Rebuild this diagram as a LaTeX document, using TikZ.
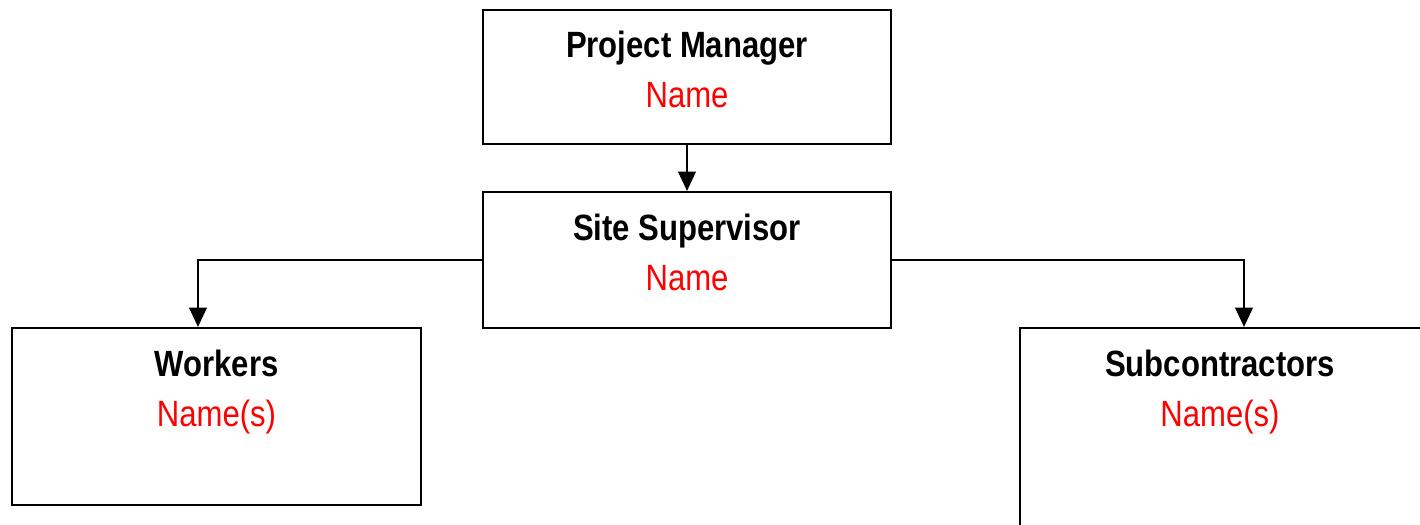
\documentclass[tikz,border=0pt]{standalone}
\usepackage{fontspec}
\setmainfont{Liberation Sans}[FakeStretch=0.85]
\usepackage{tikz}
\usetikzlibrary{arrows.meta, calc, positioning}

\begin{document}
\begin{tikzpicture}[
    box/.style={draw, line width=0.6pt, inner sep=0pt},
    role/.style={anchor=base, font=\fontsize{10.4pt}{12pt}\selectfont\bfseries},
    who/.style={anchor=base, text=red, font=\fontsize{10.4pt}{12pt}\selectfont},
    arr/.style={line width=0.6pt, -{Triangle[length=5.5pt, width=5pt]}}]
  \useasboundingbox (0,0) rectangle (14.2,-5.24);
  \clip (0,0) rectangle (14.2,-5.24);
  % ---- top: project manager and site supervisor ----
  \node[box, minimum width=4.08cm, minimum height=1.34cm] (pm) at (6.87,-0.77) {};
  \node[role] (pmrole) at ($(pm.north)+(0,-0.49)$) {Project Manager};
  \node[who] (pmname) at ($(pmrole.base)+(0,-0.50)$) {Name};
  \node[box, minimum width=4.08cm, minimum height=1.36cm] (ss) at (6.87,-2.60) {};
  \node[role] (ssrole) at ($(ss.north)+(0,-0.50)$) {Site Supervisor};
  \node[who] (ssname) at ($(ssrole.base)+(0,-0.50)$) {Name};
  % ---- bottom: workers and subcontractors ----
  \node[box, minimum width=4.09cm, minimum height=1.77cm] (wk) at (2.165,-4.165) {};
  \node[role] (wkrole) at ($(wk.north)+(0,-0.50)$) {Workers};
  \node[who] (wkname) at ($(wkrole.base)+(0,-0.50)$) {Name(s)};
  \node[box, minimum width=4.10cm, minimum height=2.40cm] (sc) at (12.25,-4.48) {};
  \node[role] (scrole) at ($(sc.north)+(-0.05,-0.50)$) {Subcontractors};
  \node[who] (scname) at ($(scrole.base)+(0,-0.50)$) {Name(s)};
  % ---- connectors ----
  \draw[arr] (pm.south) -- (ss.north);
  \draw[arr] (ss.west) -| ([xshift=-0.185cm]wk.north);
  \draw[arr] (ss.east) -| ([xshift=0.19cm]sc.north);
\end{tikzpicture}
\end{document}
